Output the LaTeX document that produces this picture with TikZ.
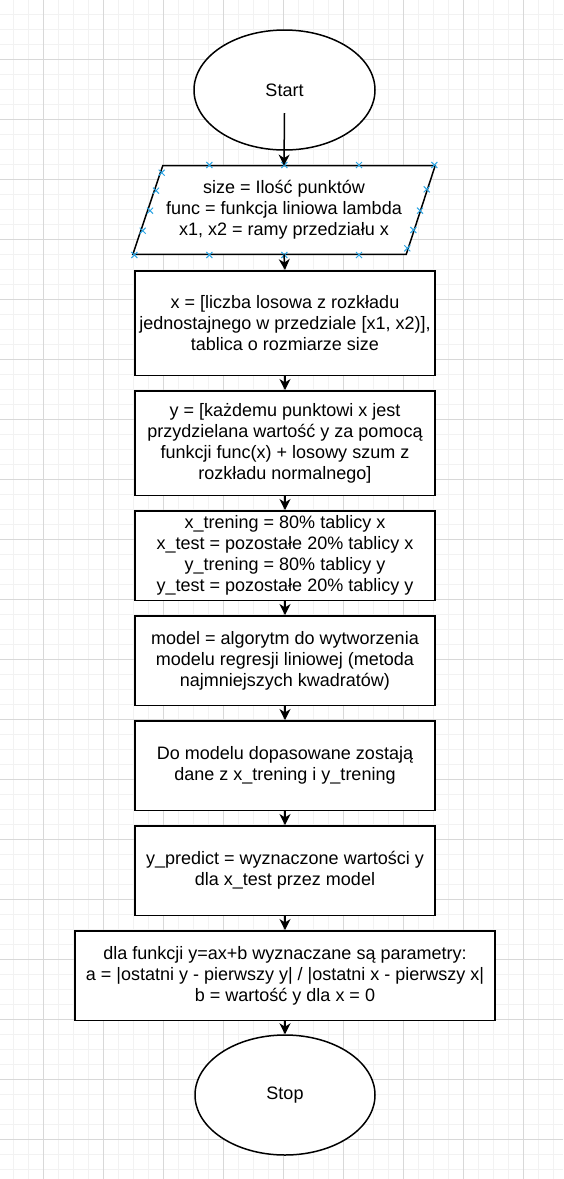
\documentclass[tikz,border=0pt]{standalone}
\usepackage{fontspec}
\setmainfont{Liberation Sans}
\usetikzlibrary{positioning,shapes.geometric,arrows.meta}
\definecolor{gridminor}{HTML}{F2F2F2}
\definecolor{gridmajor}{HTML}{D8D8D8}
\definecolor{handleblue}{HTML}{2AA4E4}
\newcommand{\boxfont}{\fontsize{18}{21}\selectfont}
\tikzset{proc/.style={draw,line width=1.5pt,fill=white,align=center,inner sep=0pt,minimum width=300pt,minimum height=89.5pt,font=\boxfont},
term/.style={draw,ellipse,line width=1.5pt,fill=white,inner sep=0pt,minimum width=181pt,minimum height=120pt,font=\boxfont},
flow/.style={-{Stealth[length=11pt,width=11pt,inset=3.5pt]},line width=1.5pt},
handle/.style={draw=handleblue,line width=1pt}}

\begin{document}
\begin{tikzpicture}[x=1pt,y=-1pt]
\useasboundingbox (0,0) rectangle (563,1179);
\fill[white] (0,0) rectangle (563,1179);
% grid
\foreach \x in {13.3,28.3,...,563} \draw[gridminor,line width=1.5pt] (\x,0) -- (\x,1179);
\foreach \y in {14.3,29.3,...,1179} \draw[gridminor,line width=1.5pt] (0,\y) -- (563,\y);
\foreach \x in {43.3,103.3,...,563} \draw[gridmajor,line width=1pt] (\x,0) -- (\x,1179);
\foreach \y in {59.3,119.3,...,1179} \draw[gridmajor,line width=1pt] (0,\y) -- (563,\y);

\node[term] (start) at (284.5,90) {Start};
\coordinate (startexit) at ([yshift=-23pt]start.center);

% input parallelogram
\node[inner sep=0pt,minimum width=302pt,minimum height=88.5pt] (input) at (284,210) {};
\filldraw[fill=white,line width=1.5pt] ([xshift=30pt]input.north west) -- (input.north east) -- ([xshift=-29pt]input.south east) -- (input.south west) -- cycle;
\node[align=center,font=\boxfont] at (input) {size = Ilość punktów\\func = funkcja liniowa lambda\\x1, x2 = ramy przedziału x};
\foreach \p in {(161.7,172.7),(156,190.7),(150,210.7),(142.7,230.7),(134.3,255),
  (434.3,165),(426.7,189.3),(420,210.7),(413.3,230),(407.3,248.3),
  (209.3,165),(284.3,165),(359,165),(209.3,255),(284.3,255),(359,255)}
  \draw[handle] \p +(-3,-3) -- +(3,3) \p +(-3,3) -- +(3,-3);

\node[proc,minimum height=104.5pt] (gen) at (285,323) {x = [liczba losowa z rozkładu\\jednostajnego w przedziale [x1, x2)],\\tablica o rozmiarze size};
\node[proc,minimum height=104.5pt] (noise) at (285,443) {y = [każdemu punktowi x jest\\przydzielana wartość y za pomocą\\funkcji func(x) + losowy szum z\\rozkładu normalnego]};
\node[proc] (split) at (285,555.5) {x\_trening = 80\% tablicy x\\x\_test = pozostałe 20\% tablicy x\\y\_trening = 80\% tablicy y\\y\_test = pozostałe 20\% tablicy y};
\node[proc] (model) at (285,660.5) {model = algorytm do wytworzenia\\modelu regresji liniowej (metoda\\najmniejszych kwadratów)};
\node[proc] (fit) at (285,765.5) {Do modelu dopasowane zostają\\dane z x\_trening i y\_trening};
\node[proc] (pred) at (285,870.5) {y\_predict = wyznaczone wartości y\\dla x\_test przez model};
\node[proc,minimum width=420pt] (param) at (285,975.5) {dla funkcji y=ax+b wyznaczane są parametry:\\a = |ostatni y - pierwszy y| / |ostatni x - pierwszy x|\\b = wartość y dla x = 0};
\node[term,minimum width=180pt] (stop) at (285,1095) {Stop};

\draw[flow] (startexit) -- (input.north);
\draw[flow] (input.south) -- (gen.north);
\draw[flow] (gen) -- (noise);
\draw[flow] (noise) -- (split);
\draw[flow] (split) -- (model);
\draw[flow] (model) -- (fit);
\draw[flow] (fit) -- (pred);
\draw[flow] (pred) -- (param);
\draw[flow] (param) -- (stop);
\end{tikzpicture}
\end{document}
